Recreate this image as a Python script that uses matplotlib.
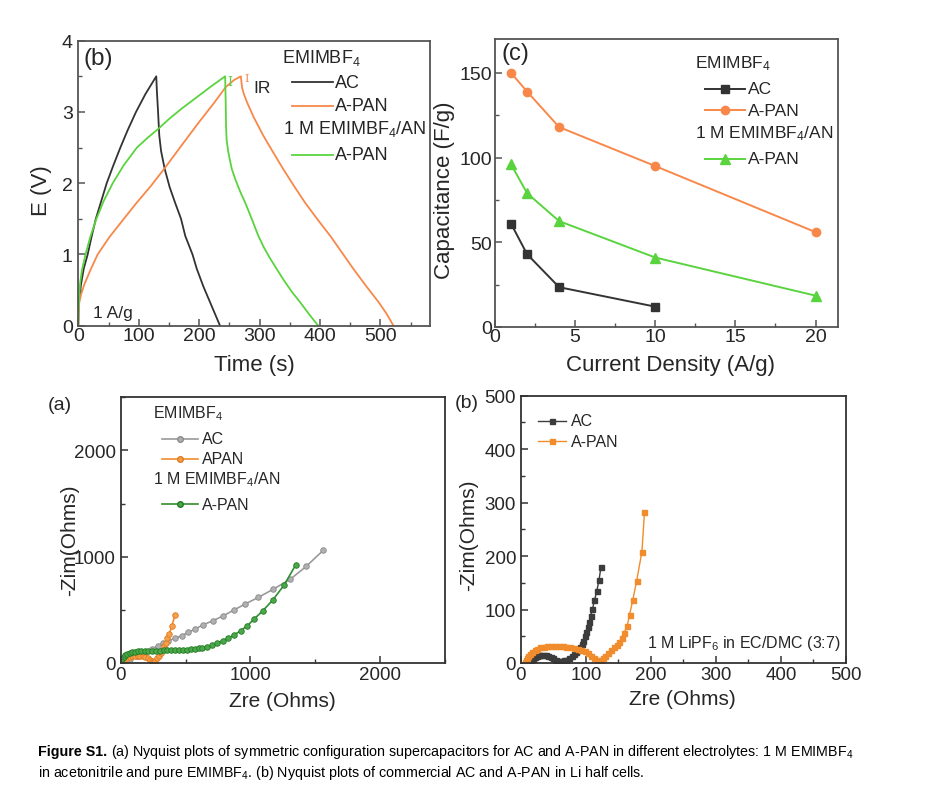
import matplotlib
matplotlib.use('Agg')
import matplotlib.pyplot as plt
from matplotlib.lines import Line2D
from matplotlib.ticker import MultipleLocator

plt.rcParams['font.family'] = ['Liberation Sans', 'DejaVu Sans']
plt.rcParams['mathtext.fontset'] = 'custom'
plt.rcParams['mathtext.rm'] = 'Liberation Sans'
plt.rcParams['mathtext.it'] = 'Liberation Sans:italic'
plt.rcParams['mathtext.bf'] = 'Liberation Sans:bold'

# ---------------- data ----------------
# (b) galvanostatic charge/discharge, 1 A/g
ac_gcd_t = [0, 0.5, 1.3, 4.5, 9, 15.5, 22, 29, 38, 47, 58, 69.6, 82, 95.5, 111, 129,
            130, 132, 134, 137, 143, 151, 160, 170, 177, 189, 196, 207, 218, 227, 234.5]
ac_gcd_e = [0, 0.25, 0.35, 0.58, 0.8, 1.0, 1.25, 1.5, 1.75, 2.0, 2.25, 2.5, 2.75, 3.0, 3.25, 3.5,
            3.3, 3.0, 2.67, 2.45, 2.2, 1.95, 1.73, 1.5, 1.26, 1.0, 0.8, 0.55, 0.33, 0.15, 0]
apan_gcd_t = [0, 0.3, 1.7, 5, 10, 20, 32, 52, 73.5, 96, 120, 142, 170, 200, 225, 244, 258, 269,
              270, 271, 274, 279, 290, 306, 322, 339, 357, 375, 396, 417, 436, 455, 476, 497, 510, 521.5]
apan_gcd_e = [0, 0.16, 0.33, 0.45, 0.58, 0.78, 1.0, 1.25, 1.48, 1.72, 1.96, 2.2, 2.52, 2.86, 3.13, 3.35, 3.45, 3.5,
              3.42, 3.34, 3.25, 3.14, 2.93, 2.67, 2.44, 2.2, 1.96, 1.73, 1.49, 1.26, 1.03, 0.8, 0.56, 0.33, 0.17, 0]
an_gcd_t = [0, 0.5, 1.5, 3, 6, 12, 20, 30, 42, 57, 75, 97, 115, 132, 150, 170, 195, 220, 243,
            244, 244.5, 245.5, 248, 251, 254, 260, 268, 276, 287, 298, 307, 317, 328, 340, 353, 367, 382, 397]
an_gcd_e = [0, 0.2, 0.4, 0.6, 0.78, 1.0, 1.25, 1.5, 1.75, 2.0, 2.25, 2.5, 2.64, 2.76, 2.9, 3.04, 3.2, 3.36, 3.5,
            3.1, 2.8, 2.6, 2.45, 2.32, 2.2, 2.05, 1.88, 1.73, 1.5, 1.26, 1.1, 0.95, 0.8, 0.64, 0.48, 0.33, 0.16, 0]

# (c) rate capability
current_density = [1, 2, 4, 10, 20]
cap_ac = [61, 43, 23.5, 12]
cap_apan = [150, 139, 118, 95, 56]
cap_an = [96, 79, 62.5, 41, 18.5]

# (a) Nyquist, supercapacitors
nyq_ac_re = [0, 33, 72, 123, 187, 239, 290, 329, 367, 419, 470, 521, 573, 632, 709, 791, 876, 958, 1061, 1177, 1305, 1429, 1562]
nyq_ac_im = [0, 12, 38, 63, 100, 131, 163, 185, 210, 232, 257, 288, 319, 357, 397, 444, 501, 554, 617, 695, 786, 908, 1061]
nyq_apan_re = [5, 15, 30, 50, 70, 90, 110, 130, 150, 170, 190, 210, 225, 238, 248, 255,
               264, 282, 298, 311, 324, 334, 347, 359, 375, 393, 419]
nyq_apan_im = [5, 18, 32, 47, 57, 64, 68, 70, 68, 63, 55, 44, 32, 20, 10, 5,
               22, 44, 69, 94, 125, 157, 188, 232, 272, 344, 451]
nyq_an_re = [0, 5, 12, 22, 35, 50, 68, 88, 110, 135, 160, 185, 210, 240, 270, 300, 330, 360, 390, 420,
             450, 480, 510, 540, 570, 600, 630, 668, 706, 745, 786, 830, 874, 925, 976, 1028, 1095, 1172, 1259, 1349]
nyq_an_im = [0, 20, 40, 60, 76, 88, 96, 102, 106, 109, 111, 113, 114, 115, 116, 117, 118, 119, 120, 121,
             122, 124, 126, 129, 133, 138, 145, 155, 168, 188, 210, 235, 263, 304, 350, 413, 491, 592, 732, 923]

# (b) Nyquist, Li half cells
li_ac_re = [14, 16, 18, 21, 24, 27, 30, 34, 38, 42, 46, 50, 54, 58, 62, 66, 70, 74, 78, 82, 85, 88,
            91, 94, 96, 98, 100, 102.5, 104.6, 107, 110, 113, 116.5, 120, 123]
li_ac_im = [1, 5, 8, 11, 13, 14.5, 15.3, 15.5, 15, 13.5, 11, 8.5, 6, 4.5, 4.3, 5, 6.5, 9, 13, 17, 20, 24,
            29, 35, 42, 50, 58.6, 67, 76, 88, 101, 117, 134, 155, 179]
li_apan_re = [6, 7, 9, 11, 14, 17, 21, 25, 30, 35, 40, 46, 52, 58, 64, 70, 76, 82, 88, 93, 98, 103, 108,
              113, 117, 120, 123, 126, 130, 134, 139, 143, 147, 151, 155, 158.5, 163.5, 167, 172, 178, 186, 190]
li_apan_im = [1, 5, 9, 13, 17, 20.5, 24, 26.5, 29, 30.5, 31.5, 32, 32, 31.5, 31, 30, 29, 28, 26.5, 25, 22, 18, 14,
              9.5, 6, 4.5, 6, 9, 13, 18, 24, 29, 34, 40, 46, 56, 70, 90, 118, 154, 208, 282]

# colours
C_BLACK = '#333333'
C_ORANGE = '#f7884a'
C_GREEN = '#5ad43e'
C_GRAY = '#9a9a9a'
C_ORANGE2 = '#f08c2c'
C_DGREEN = '#2f8f2f'
C_DGRAY = '#3c3c3c'
TXT = '#262626'

W, H = 928, 804
fig = plt.figure(figsize=(9.28, 8.04), dpi=100)
fig.patch.set_facecolor('white')


def rect(l, t, r, b):
    return [l / W, 1 - b / H, (r - l) / W, (b - t) / H]


def fx(x):
    return x / W


def fy(y):
    return 1 - y / H


def style(ax, spine_color, labelsize, xpad, ypad):
    for s in ax.spines.values():
        s.set_color(spine_color)
        s.set_linewidth(1.3)
    ax.tick_params(which='both', direction='in', color=spine_color, labelcolor=TXT,
                   top=False, right=False)
    ax.tick_params(which='major', length=5, width=1.1, labelsize=labelsize)
    ax.tick_params(which='minor', length=3, width=1.0)
    ax.tick_params(axis='x', which='major', pad=xpad)
    ax.tick_params(axis='y', which='major', pad=ypad)


def ftext(x, y, s, size, color=TXT, ha='left', va='center', **kw):
    fig.text(fx(x), fy(y), s, fontsize=size, color=color, ha=ha, va=va, **kw)


def leg_line(x0, x1, y, color, lw=1.5, marker=None, ms=5, mfc=None, mec=None):
    fig.add_artist(Line2D([fx(x0), fx(x1)], [fy(y), fy(y)], transform=fig.transFigure,
                          color=color, lw=lw))
    if marker:
        fig.add_artist(Line2D([fx((x0 + x1) / 2)], [fy(y)], transform=fig.transFigure,
                              marker=marker, ms=ms, color=color,
                              mfc=mfc or color, mec=mec or color, lw=0))


# ---------------- panel (b) top-left: GCD ----------------
ax1 = fig.add_axes(rect(78.3, 41.7, 430, 326.7))
ax1.plot(ac_gcd_t, ac_gcd_e, color=C_BLACK, lw=1.3)
ax1.plot(apan_gcd_t, apan_gcd_e, color=C_ORANGE, lw=1.3)
ax1.plot(an_gcd_t, an_gcd_e, color=C_GREEN, lw=1.3)
ax1.set_xlim(0, 582)
ax1.set_ylim(0, 4)
ax1.xaxis.set_major_locator(MultipleLocator(100))
ax1.xaxis.set_minor_locator(MultipleLocator(50))
ax1.yaxis.set_major_locator(MultipleLocator(1))
ax1.yaxis.set_minor_locator(MultipleLocator(0.5))
style(ax1, '#555555', 14, 1, 4)
ax1.set_xlabel('Time (s)', fontsize=16, color=TXT)
ax1.set_ylabel('E (V)', fontsize=16, color=TXT)
ax1.xaxis.set_label_coords(0.5, -0.10)
ax1.yaxis.set_label_coords(-0.075, 0.476)
ax1.text(251, 3.43, 'I', family='DejaVu Serif', fontsize=9, color=C_GREEN, ha='center', va='center')
ax1.text(279, 3.47, 'I', family='DejaVu Serif', fontsize=8, color=C_ORANGE, ha='center', va='center')
ax1.text(290, 3.35, 'IR', fontsize=12.5, color=TXT, ha='left', va='center')
ax1.text(0.043, 0.048, '1 A/g', transform=ax1.transAxes, fontsize=12.5, color=TXT, ha='left', va='center')

ftext(84, 59, '(b)', 17.5)
ftext(281.7, 58.3, r'EMIMBF$_4$', 13)
leg_line(292, 333, 83.3, C_BLACK, lw=1.3)
ftext(335, 83.3, 'AC', 13)
leg_line(292, 333, 106.7, C_ORANGE, lw=1.3)
ftext(335, 106.7, 'A-PAN', 13)
ftext(283, 129, r'1 M EMIMBF$_4$/AN', 13)
leg_line(292, 333, 156, C_GREEN, lw=1.3)
ftext(335, 156, 'A-PAN', 13)

# ---------------- panel (c) top-right: capacitance ----------------
ax2 = fig.add_axes(rect(495, 40, 838, 328))
ax2.plot(current_density[:len(cap_ac)], cap_ac, color=C_BLACK, lw=1.4, marker='s', ms=5.5)
ax2.plot(current_density, cap_apan, color=C_ORANGE, lw=1.4, marker='o', ms=6)
ax2.plot(current_density, cap_an, color=C_GREEN, lw=1.4, marker='^', ms=6.5)
ax2.set_xlim(0, 21.4)
ax2.set_ylim(0, 170)
ax2.xaxis.set_major_locator(MultipleLocator(5))
ax2.xaxis.set_minor_locator(MultipleLocator(2.5))
ax2.yaxis.set_major_locator(MultipleLocator(50))
ax2.yaxis.set_minor_locator(MultipleLocator(25))
style(ax2, '#555555', 14, 1, 2)
ax2.set_xlabel('Current Density (A/g)', fontsize=16, color=TXT)
ax2.set_ylabel('Capacitance (F/g)', fontsize=16, color=TXT)
ax2.xaxis.set_label_coords(0.513, -0.095)
ax2.yaxis.set_label_coords(-0.117, 0.479)

ftext(501.7, 54, '(c)', 17)
ftext(695, 63.3, r'EMIMBF$_4$', 12.5)
leg_line(705, 745, 90, C_BLACK, lw=1.4, marker='s', ms=5.5)
ftext(748, 90, 'AC', 12.5)
leg_line(705, 745, 111, C_ORANGE, lw=1.4, marker='o', ms=6)
ftext(748, 111, 'A-PAN', 12.5)
ftext(695, 133.3, r'1 M EMIMBF$_4$/AN', 12.5)
leg_line(705, 745, 160, C_GREEN, lw=1.4, marker='^', ms=6.5)
ftext(748, 160, 'A-PAN', 12.5)

# ---------------- panel (a) bottom-left: Nyquist supercap ----------------
ax3 = fig.add_axes(rect(120.7, 398.3, 445, 664))
ax3.plot(nyq_ac_re, nyq_ac_im, color=C_GRAY, lw=1.2, marker='o', ms=4,
         mfc='#b0b0b0', mec='#8a8a8a', mew=0.6)
ax3.plot(nyq_apan_re, nyq_apan_im, color=C_ORANGE2, lw=1.2, marker='o', ms=4,
         mfc='#f6a04a', mec='#e07a20', mew=0.6)
ax3.plot(nyq_an_re, nyq_an_im, color=C_DGREEN, lw=1.2, marker='o', ms=4,
         mfc='#4aa84a', mec='#237a23', mew=0.6)
ax3.set_xlim(0, 2500)
ax3.set_ylim(0, 2500)
ax3.xaxis.set_major_locator(MultipleLocator(1000))
ax3.xaxis.set_minor_locator(MultipleLocator(500))
ax3.yaxis.set_major_locator(MultipleLocator(1000))
ax3.yaxis.set_minor_locator(MultipleLocator(500))
style(ax3, '#333333', 13.5, 2, 3.5)
ax3.set_xlabel('Zre (Ohms)', fontsize=15, color=TXT)
ax3.set_ylabel('-Zim(Ohms)', fontsize=15, color=TXT)
ax3.xaxis.set_label_coords(0.5, -0.105)
ax3.yaxis.set_label_coords(-0.129, 0.467)

ftext(48, 406, '(a)', 14)
ftext(152.7, 413.3, r'EMIMBF$_4$', 11.5)
leg_line(161.7, 198.3, 440, C_GRAY, lw=1.2, marker='o', ms=4, mfc='#b0b0b0', mec='#8a8a8a')
ftext(201.7, 440, 'AC', 11.5)
leg_line(161.7, 198.3, 460, C_ORANGE2, lw=1.2, marker='o', ms=4, mfc='#f6a04a', mec='#e07a20')
ftext(201.7, 460, 'APAN', 11.5)
ftext(152.7, 480, r'1 M EMIMBF$_4$/AN', 11.5)
leg_line(161.7, 198.3, 505, C_DGREEN, lw=1.2, marker='o', ms=4, mfc='#4aa84a', mec='#237a23')
ftext(201.7, 505, 'A-PAN', 11.5)

# ---------------- panel (b) bottom-right: Nyquist Li half cells ----------------
ax4 = fig.add_axes(rect(521, 396.7, 846, 664))
ax4.plot(li_ac_re, li_ac_im, color=C_DGRAY, lw=1.0, marker='s', ms=3.6)
ax4.plot(li_apan_re, li_apan_im, color=C_ORANGE2, lw=1.0, marker='s', ms=3.6)
ax4.set_xlim(0, 500)
ax4.set_ylim(0, 500)
ax4.xaxis.set_major_locator(MultipleLocator(100))
ax4.xaxis.set_minor_locator(MultipleLocator(50))
ax4.yaxis.set_major_locator(MultipleLocator(100))
ax4.yaxis.set_minor_locator(MultipleLocator(50))
style(ax4, '#333333', 13.5, 2, 3.5)
ax4.set_xlabel('Zre (Ohms)', fontsize=15, color=TXT)
ax4.set_ylabel('-Zim(Ohms)', fontsize=15, color=TXT)
ax4.xaxis.set_label_coords(0.497, -0.097)
ax4.yaxis.set_label_coords(-0.132, 0.483)
ax4.text(0.985, 0.075, r'1 M LiPF$_6$ in EC/DMC (3:7)', transform=ax4.transAxes,
         fontsize=11.5, color=TXT, ha='right', va='center')

ftext(455, 403.3, '(b)', 14)
leg_line(537.7, 566, 421.7, C_DGRAY, lw=1.0, marker='s', ms=3.6)
ftext(571, 421.7, 'AC', 11.5)
leg_line(537.7, 566, 442.3, C_ORANGE2, lw=1.0, marker='s', ms=3.6)
ftext(571, 442.3, 'A-PAN', 11.5)

# ---------------- caption ----------------
cap_size = 10.3
fig.canvas.draw()
renderer = fig.canvas.get_renderer()
t_bold = fig.text(fx(38), fy(752), 'Figure S1.', fontsize=cap_size, fontweight='bold',
                  color='black', ha='left', va='center')
bb = t_bold.get_window_extent(renderer)
x_after = bb.x1 / W + 4 / W
fig.text(x_after, fy(752),
         r'(a) Nyquist plots of symmetric configuration supercapacitors for AC and A-PAN in different electrolytes: 1 M EMIMBF$_4$',
         fontsize=cap_size, color='black', ha='left', va='center')
fig.text(fx(38), fy(773),
         r'in acetonitrile and pure EMIMBF$_4$. (b) Nyquist plots of commercial AC and A-PAN in Li half cells.',
         fontsize=cap_size, color='black', ha='left', va='center')

fig.savefig('out.png', dpi=100, facecolor='white')
